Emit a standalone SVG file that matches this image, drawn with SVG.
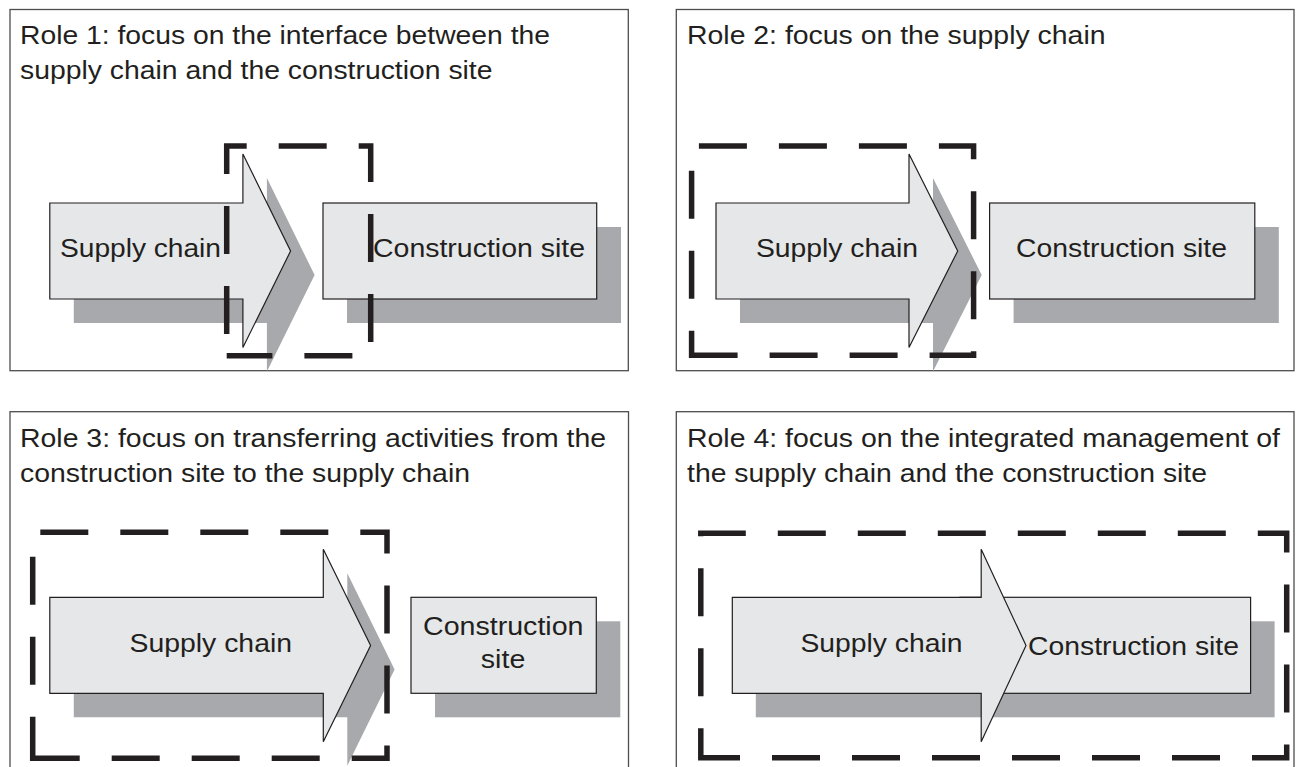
<svg xmlns="http://www.w3.org/2000/svg" width="1298" height="767" viewBox="0 0 1298 767">
<style>
.frame{fill:#fff;stroke:#4d4d4d;stroke-width:1.3}
.shape{fill:#e6e7e8;stroke:#231f20;stroke-width:1.2;stroke-linejoin:miter}
.shadow{fill:#a7a9ac;stroke:none}
.focus{fill:none;stroke:#231f20;stroke-width:5.5;stroke-dasharray:48 32;stroke-linejoin:miter;stroke-linecap:butt}
.t{font-family:"Liberation Sans",Arial,Helvetica,sans-serif;font-size:25px;fill:#231f20}
</style>
<rect width="1298" height="767" fill="#fff"/>

<!-- Panel 1 -->
<g id="panel1">
  <rect class="frame" x="10" y="9.5" width="618.3" height="361.2"/>
  <text class="t" x="20" y="44.3" textLength="530" lengthAdjust="spacingAndGlyphs">Role 1: focus on the interface between the</text>
  <text class="t" x="20" y="79.3" textLength="472.5" lengthAdjust="spacingAndGlyphs">supply chain and the construction site</text>
  <g id="p1-supply-chain">
    <polygon class="shadow" points="73.8,227 266.9,227 266.9,178 314.6,275 266.9,371.5 266.9,323 73.8,323"/>
    <polygon class="shape" points="49.8,203 242.9,203 242.9,154 290.6,251 242.9,347.5 242.9,299 49.8,299"/>
    <text class="t" x="60" y="256.7" textLength="161" lengthAdjust="spacingAndGlyphs">Supply chain</text>
  </g>
  <g id="p1-construction-site">
    <rect class="shadow" x="347" y="227" width="274" height="96"/>
    <rect class="shape" x="323" y="203" width="273.7" height="96"/>
    <text class="t" x="373" y="256.7" textLength="212" lengthAdjust="spacingAndGlyphs">Construction site</text>
  </g>
  <path id="p1-focus" class="focus" style="stroke-dashoffset:58.3" d="M226.7,355.7 V146 H370.7 V355.7 Z"/>
</g>

<!-- Panel 2 -->
<g id="panel2">
  <rect class="frame" x="676.3" y="9.5" width="617.7" height="361.2"/>
  <text class="t" x="687" y="44.3" textLength="418.5" lengthAdjust="spacingAndGlyphs">Role 2: focus on the supply chain</text>
  <g id="p2-supply-chain">
    <polygon class="shadow" points="740,227 933,227 933,178 981.7,275 933,371.5 933,323 740,323"/>
    <polygon class="shape" points="716,203 909,203 909,154 957.7,251 909,347.5 909,299 716,299"/>
    <text class="t" x="756" y="257" textLength="162" lengthAdjust="spacingAndGlyphs">Supply chain</text>
  </g>
  <g id="p2-construction-site">
    <rect class="shadow" x="1013.6" y="227" width="265.2" height="96"/>
    <rect class="shape" x="989.6" y="203" width="265.2" height="96"/>
    <text class="t" x="1016" y="257" textLength="211" lengthAdjust="spacingAndGlyphs">Construction site</text>
  </g>
  <path id="p2-focus" class="focus" style="stroke-dashoffset:23.4" d="M691.6,355.3 V146 H973.6 V355.3 Z"/>
</g>

<!-- Panel 3 -->
<g id="panel3">
  <rect class="frame" x="10" y="411.7" width="618.5" height="370"/>
  <text class="t" x="20" y="446.7" textLength="586" lengthAdjust="spacingAndGlyphs">Role 3: focus on transferring activities from the</text>
  <text class="t" x="20" y="481.5" textLength="450" lengthAdjust="spacingAndGlyphs">construction site to the supply chain</text>
  <g id="p3-supply-chain">
    <polygon class="shadow" points="73.8,621.3 347.3,621.3 347.3,573.3 394.6,669.5 347.3,765.7 347.3,717.3 73.8,717.3"/>
    <polygon class="shape" points="49.8,597.3 323.3,597.3 323.3,549.3 370.6,645.5 323.3,741.7 323.3,693.3 49.8,693.3"/>
    <text class="t" x="129.5" y="651.7" textLength="162.5" lengthAdjust="spacingAndGlyphs">Supply chain</text>
  </g>
  <g id="p3-construction-site">
    <rect class="shadow" x="435" y="621.3" width="185.3" height="96"/>
    <rect class="shape" x="411" y="597.3" width="185.3" height="96"/>
    <text class="t" x="423" y="635" textLength="160.5" lengthAdjust="spacingAndGlyphs">Construction</text>
    <text class="t" x="480.8" y="668.3" textLength="44.5" lengthAdjust="spacingAndGlyphs">site</text>
  </g>
  <path id="p3-focus" class="focus" style="stroke-dashoffset:6.4" d="M32.7,758.3 V532.3 H387 V758.3 Z"/>
</g>

<!-- Panel 4 -->
<g id="panel4">
  <rect class="frame" x="676.3" y="411.7" width="617.7" height="370"/>
  <text class="t" x="687" y="446.7" textLength="593" lengthAdjust="spacingAndGlyphs">Role 4: focus on the integrated management of</text>
  <text class="t" x="687" y="481.5" textLength="520" lengthAdjust="spacingAndGlyphs">the supply chain and the construction site</text>
  <rect class="shadow" x="755.8" y="621.3" width="518.8" height="96"/>
  <g id="p4-construction-site">
    <rect class="shape" x="960" y="597.3" width="290.6" height="96"/>
  </g>
  <g id="p4-supply-chain">
    <polygon class="shape" points="732.3,597.3 981.2,597.3 981.2,549.3 1026,645.5 981.2,741.7 981.2,693.3 732.3,693.3"/>
    <text class="t" x="800.5" y="651.7" textLength="162" lengthAdjust="spacingAndGlyphs">Supply chain</text>
  </g>
  <text class="t" x="1028" y="655" textLength="211" lengthAdjust="spacingAndGlyphs">Construction site</text>
  <path id="p4-focus" class="focus" style="stroke-dashoffset:18.6" d="M700.8,757.7 V533.3 H1286.7 V757.7 Z"/>
</g>
</svg>
